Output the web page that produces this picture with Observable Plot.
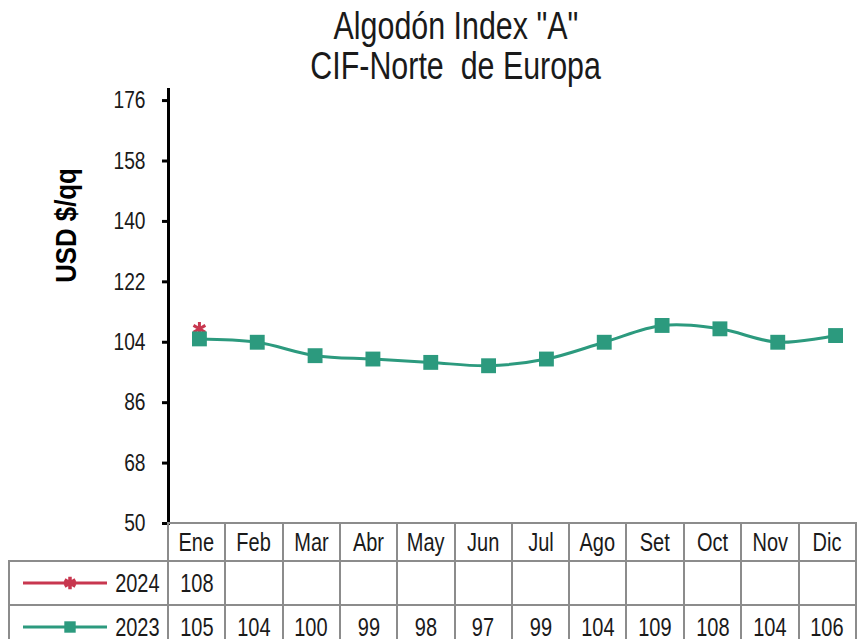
<!DOCTYPE html>
<html><head><meta charset="utf-8">
<script src="https://cdn.jsdelivr.net/npm/d3@7"></script>
<script src="https://cdn.jsdelivr.net/npm/@observablehq/plot@0.6"></script>
<style>
html,body{margin:0;padding:0;background:#fff;}
body{width:857px;height:639px;overflow:hidden;position:relative;font-family:"Liberation Sans",Arial,sans-serif;color:#1a1a1a;}
#title{position:absolute;left:0;top:6px;width:912px;text-align:center;font-size:38px;line-height:40px;}
#title div span{display:inline-block;transform:scaleX(0.8);transform-origin:50% 50%;}
#chart{position:absolute;left:0;top:0;}
#tbl{position:absolute;left:8px;top:522px;border-collapse:collapse;table-layout:fixed;}
#tbl td{border:2px solid #8c8c8c;text-align:center;font-size:25px;padding:0;white-space:nowrap;overflow:hidden;}
#tbl td span.sq{display:inline-block;transform:scaleX(0.8);transform-origin:50% 50%;}
#tbl td.lab{text-align:right;padding-right:7px;position:relative;}
#tbl td.lab span.sq{transform-origin:100% 50%;}
#tbl td.lab svg{position:absolute;left:13px;top:50%;margin-top:-10px;}
</style>
</head><body>
<div id="title"></div>
<div id="chart"></div>
<table id="tbl"></table>
<script>
const titleLines = ['Algodón Index "A"', 'CIF-Norte  de Europa'];
const months = ["Ene","Feb","Mar","Abr","May","Jun","Jul","Ago","Set","Oct","Nov","Dic"];
const values2024 = [108];
const values2023 = [105,104,100,99,98,97,99,104,109,108,104,106];
const yTicks = [50,68,86,104,122,140,158,176];
const yLabel = "USD $/qq";
const seriesNames = ["2024","2023"];
const colors = {"2024":"#c8374f","2023":"#2c9a7e"};

const esc = s => s.replace(/&/g,"&amp;").replace(/</g,"&lt;").replace(/"/g,"&quot;").replace(/  /g," &nbsp;");
document.getElementById("title").innerHTML = titleLines.map(t => `<div><span>${esc(t)}</span></div>`).join("");

const d2023 = values2023.map((v,i)=>({month:months[i], value:v}));
const d2024 = values2024.map((v,i)=>({month:months[i], value:v}));

const axisLine = (index, scales, values, dimensions) => {
  const l = document.createElementNS("http://www.w3.org/2000/svg","line");
  const x = dimensions.marginLeft - 1.5;
  l.setAttribute("x1", x); l.setAttribute("x2", x);
  l.setAttribute("y1", dimensions.marginTop);
  l.setAttribute("y2", dimensions.height - dimensions.marginBottom + 1);
  l.setAttribute("stroke", "#000"); l.setAttribute("stroke-width", 3);
  return l;
};

const chart = Plot.plot({
  width: 857, height: 524,
  marginTop: 88, marginBottom: 1, marginLeft: 170, marginRight: 0,
  x: {type: "band", domain: months, range: [170, 864], padding: 0, round: false, axis: null},
  y: {domain: [50, 179.6], axis: null},
  style: {fontFamily: '"Liberation Sans",Arial,sans-serif', fontSize: "24px", color: "#1a1a1a", background: "transparent", overflow: "visible"},
  marks: [
    Plot.axisY({ticks: yTicks, tickSize: 8, tickPadding: 17, strokeWidth: 3, stroke: "#000", fill: "#1a1a1a", label: null}),
    axisLine,
    Plot.text([yLabel], {frameAnchor: "top-left", textAnchor: "middle", dx: -116, dy: 137, rotate: -90, fontWeight: "bold", fontSize: 30, fill: "#000"}),
    Plot.line(d2023, {x: "month", y: "value", stroke: colors["2023"], strokeWidth: 3, curve: "catmull-rom"}),
    Plot.dot(d2024, {x: "month", y: "value", symbol: "asterisk", stroke: colors["2024"], r: 6.5, strokeWidth: 3}),
    Plot.dot(d2023, {x: "month", y: "value", symbol: "square", fill: colors["2023"], r: 8.4})
  ]
});
document.getElementById("chart").appendChild(chart);

// condense SVG text like the narrow font of the original
chart.querySelectorAll("text").forEach(t => {
  const f = t.textContent === yLabel ? 0.86 : 0.8;
  const len = t.getComputedTextLength();
  if (len > 0) {
    t.setAttribute("textLength", len * f);
    t.setAttribute("lengthAdjust", "spacingAndGlyphs");
  }
});

// data table
const colW = 694/12;
const tbl = document.getElementById("tbl");
let html = `<colgroup><col style="width:162px">${months.map(()=>`<col style="width:${colW}px">`).join("")}</colgroup>`;
html += `<tr style="height:38px"><td style="border-top:none;border-left:none"></td>${months.map(m=>`<td><span class="sq">${m}</span></td>`).join("")}</tr>`;
const seriesVals = {"2024": values2024, "2023": values2023};
for (const s of seriesNames) {
  const c = colors[s];
  const p = d3.symbol(s === "2024" ? d3.symbolAsterisk : d3.symbolSquare, s === "2024" ? 110 : 130)();
  const marker = s === "2024"
    ? `<path d="${p}" transform="translate(47,10)" fill="none" stroke="${c}" stroke-width="3.5"/>`
    : `<path d="${p}" transform="translate(47,10)" fill="${c}"/>`;
  const svg = `<svg width="90" height="20"><line x1="0" x2="84" y1="10" y2="10" stroke="${c}" stroke-width="3"/>${marker}</svg>`;
  html += `<tr style="height:44px"><td class="lab">${svg}<span class="sq">${s}</span></td>${months.map((m,i)=>`<td><span class="sq">${seriesVals[s][i] ?? ""}</span></td>`).join("")}</tr>`;
}
tbl.innerHTML = html;
</script>
</body></html>
